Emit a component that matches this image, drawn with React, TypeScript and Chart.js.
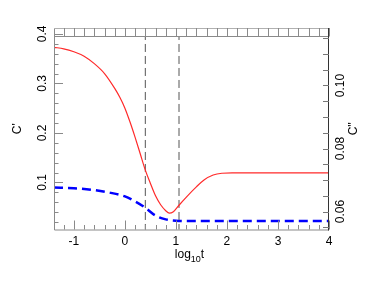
import React, { useEffect, useRef } from "react";
import { Chart, registerables } from "chart.js";

Chart.register(...registerables);

// ---- data ----
const redLogT = [-1.39, -1.2, -1.0, -0.8, -0.6, -0.4, -0.2, -0.1, 0, 0.1, 0.2, 0.3, 0.4, 0.5, 0.6, 0.7, 0.8, 0.87, 0.95, 1.06, 1.2, 1.4, 1.55, 1.73, 1.9, 2.1, 2.5, 3, 3.5, 4];
const cPrime = [0.373, 0.370, 0.364, 0.355, 0.340, 0.320, 0.290, 0.272, 0.250, 0.222, 0.191, 0.158, 0.125, 0.098, 0.073, 0.055, 0.043, 0.038, 0.041, 0.054, 0.070, 0.091, 0.105, 0.115, 0.1186, 0.1193, 0.1193, 0.1193, 0.1193, 0.1193];
const blueLogT = [-1.39, -1.0, -0.6, -0.3, 0, 0.2, 0.4, 0.6, 0.8, 1.0, 1.3, 2, 3, 4];
const cDouble = [0.0676, 0.0674, 0.0668, 0.0660, 0.0648, 0.0632, 0.0612, 0.0587, 0.0575, 0.0571, 0.0570, 0.0570, 0.0570, 0.0570];
const markerLogT = [0.4, 1.06];
const markerSpan = [0, 0.395];
const xTickLabels = [-1, 0, 1, 2, 3, 4];
const leftTickLabels = [0.1, 0.2, 0.3, 0.4];
const rightTickLabels = [0.06, 0.08, 0.1];

const X_MIN = -1.39, X_MAX = 4;
const Y_MIN = 0.005, Y_MAX = 0.412;
const Y2_MIN = 0.05429, Y2_MAX = 0.11825;

const FONT = "'Liberation Sans', Arial, sans-serif";

const framePlugin = {
  id: "frame",
  afterDatasetsDraw(chart: any) {
    const { ctx, chartArea, scales } = chart;
    const { left, right, top, bottom } = chartArea;
    const x = scales.x, y = scales.y, y2 = scales.y2;
    ctx.save();
    ctx.lineWidth = 1;
    // frame lines
    ctx.strokeStyle = "#8a8a8a";
    ctx.beginPath();
    ctx.moveTo(left + 0.5, top);
    ctx.lineTo(left + 0.5, bottom + 0.5);
    ctx.lineTo(right, bottom + 0.5);
    ctx.stroke();
    ctx.strokeStyle = "#b0b0b0";
    ctx.beginPath();
    ctx.moveTo(left, top + 0.5);
    ctx.lineTo(right, top + 0.5);
    ctx.stroke();
    const innerTop = Math.round(y.getPixelForValue(markerSpan[1])) + 0.5;
    ctx.strokeStyle = "#8a8a8a";
    ctx.beginPath();
    ctx.moveTo(left, innerTop);
    ctx.lineTo(right, innerTop);
    ctx.stroke();
    ctx.strokeStyle = "#333";
    ctx.beginPath();
    ctx.moveTo(right - 0.5, top);
    ctx.lineTo(right - 0.5, bottom + 1);
    ctx.stroke();

    // x ticks
    ctx.strokeStyle = "#8a8a8a";
    ctx.beginPath();
    for (let i = -6; i <= 20; i++) {
      const v = i * 0.2;
      if (v < X_MIN || v > X_MAX) continue;
      const px = Math.round(x.getPixelForValue(v)) + 0.5;
      const major = i % 5 === 0;
      ctx.moveTo(px, bottom);
      ctx.lineTo(px, bottom - (major ? 9 : 4.5));
      ctx.moveTo(px, top);
      ctx.lineTo(px, innerTop);
    }
    // left ticks
    for (let i = 1; i <= 20; i++) {
      const v = i * 0.02;
      if (v < Y_MIN || v > Y_MAX) continue;
      const py = Math.round(y.getPixelForValue(v)) + 0.5;
      const major = i % 5 === 0;
      ctx.moveTo(left, py);
      ctx.lineTo(left + (major ? 9 : 4.5), py);
    }
    ctx.stroke();
    // right ticks
    ctx.strokeStyle = "#777";
    ctx.beginPath();
    for (let i = 11; i <= 23; i++) {
      const v = i * 0.005;
      if (v < Y2_MIN || v > Y2_MAX) continue;
      const py = Math.round(y2.getPixelForValue(v)) + 0.5;
      ctx.moveTo(right, py);
      ctx.lineTo(right - 6, py);
    }
    ctx.stroke();

    // labels
    ctx.fillStyle = "#000";
    ctx.font = `12px ${FONT}`;
    ctx.textAlign = "center";
    ctx.textBaseline = "middle";
    xTickLabels.forEach((v) => {
      ctx.fillText(String(v), x.getPixelForValue(v), 242);
    });
    leftTickLabels.forEach((v) => {
      ctx.save();
      ctx.translate(43, y.getPixelForValue(v));
      ctx.rotate(-Math.PI / 2);
      ctx.fillText(v.toFixed(1), 0, 0);
      ctx.restore();
    });
    rightTickLabels.forEach((v) => {
      ctx.save();
      ctx.translate(340.5, y2.getPixelForValue(v));
      ctx.rotate(-Math.PI / 2);
      ctx.fillText(v.toFixed(2), 0, 0);
      ctx.restore();
    });
    // titles
    const midY = (top + bottom) / 2;
    ctx.save();
    ctx.translate(18, midY);
    ctx.rotate(-Math.PI / 2);
    ctx.fillText("C'", 0, 0);
    ctx.restore();
    ctx.save();
    ctx.translate(354, midY);
    ctx.rotate(-Math.PI / 2);
    ctx.fillText("C''", 0, 0);
    ctx.restore();

    // x title: log10 t
    ctx.textAlign = "left";
    ctx.textBaseline = "alphabetic";
    ctx.font = `12px ${FONT}`;
    const wLog = ctx.measureText("log").width;
    const wT = ctx.measureText("t").width;
    ctx.font = `9px ${FONT}`;
    const wSub = ctx.measureText("10").width;
    const total = wLog + wSub + wT;
    const cx = (left + right) / 2 - 2;
    let sx = cx - total / 2;
    const base = 258;
    ctx.font = `12px ${FONT}`;
    ctx.fillText("log", sx, base);
    sx += wLog;
    ctx.font = `9px ${FONT}`;
    ctx.fillText("10", sx, base + 4);
    sx += wSub;
    ctx.font = `12px ${FONT}`;
    ctx.fillText("t", sx, base);
    ctx.restore();
  },
};

export default function App() {
  const ref = useRef<HTMLCanvasElement | null>(null);
  useEffect(() => {
    if (!ref.current) return;
    const hidden = {
      ticks: { display: false },
      grid: { display: false },
      border: { display: false },
      title: { display: false },
    };
    const markerSets = markerLogT.map((m) => ({
      data: markerSpan.map((v) => ({ x: m, y: v })),
      yAxisID: "y",
      borderColor: "#555",
      borderWidth: 1,
      borderDash: [8, 4],
      pointRadius: 0,
      fill: false,
    }));
    const chart = new Chart(ref.current, {
      type: "line",
      data: {
        datasets: [
          {
            data: redLogT.map((t, i) => ({ x: t, y: cPrime[i] })),
            yAxisID: "y",
            borderColor: "#ff2a2a",
            borderWidth: 1.2,
            pointRadius: 0,
            cubicInterpolationMode: "monotone",
            fill: false,
          },
          {
            data: blueLogT.map((t, i) => ({ x: t, y: cDouble[i] })),
            yAxisID: "y2",
            borderColor: "#0000ff",
            borderWidth: 2.5,
            borderDash: [9, 5],
            pointRadius: 0,
            cubicInterpolationMode: "monotone",
            fill: false,
          },
          ...markerSets,
        ] as any,
      },
      options: {
        animation: false,
        responsive: false,
        layout: { padding: { top: 28, left: 0, right: 0, bottom: 0 } },
        plugins: { legend: { display: false }, tooltip: { enabled: false } },
        scales: {
          x: {
            type: "linear",
            position: "bottom",
            min: X_MIN,
            max: X_MAX,
            ...hidden,
            afterFit: (s: any) => { s.height = 51.5; },
          },
          y: {
            type: "linear",
            position: "left",
            min: Y_MIN,
            max: Y_MAX,
            ...hidden,
            afterFit: (s: any) => { s.width = 54; },
          },
          y2: {
            type: "linear",
            position: "right",
            min: Y2_MIN,
            max: Y2_MAX,
            ...hidden,
            afterFit: (s: any) => { s.width = 53; },
          },
        },
      } as any,
      plugins: [framePlugin],
    });
    return () => chart.destroy();
  }, []);
  return (
    <div style={{ position: "fixed", left: 0, top: 0, width: 382, height: 281, background: "#fff" }}>
      <canvas ref={ref} width={382} height={281} />
    </div>
  );
}
